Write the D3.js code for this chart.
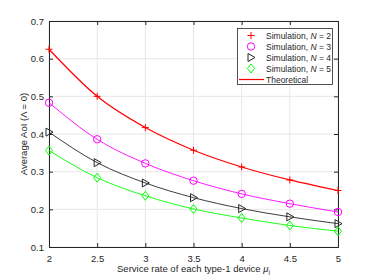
<!DOCTYPE html>
<html>
<head>
<meta charset="utf-8">
<script src="https://cdn.jsdelivr.net/npm/d3@7"></script>
<style>
  body { margin: 0; background: #fff; }
  text { font-family: "Liberation Sans", Arial, sans-serif; }
</style>
</head>
<body>
<div id="chart"></div>
<script>
// service rate values
var mu = [2, 2.5, 3, 3.5, 4, 4.5, 5];

// simulated AoI for each N
var simN2 = [0.625, 0.500, 0.417, 0.357, 0.3125, 0.278, 0.250];
var simN3 = [0.483, 0.386, 0.322, 0.276, 0.241, 0.215, 0.193];
var simN4 = [0.405, 0.324, 0.270, 0.231, 0.202, 0.180, 0.162];
var simN5 = [0.356, 0.284, 0.236, 0.201, 0.177, 0.157, 0.142];

// theoretical curves
var theoN2 = [0.625, 0.500, 0.417, 0.357, 0.3125, 0.278, 0.250];
var theoN3 = [0.483, 0.386, 0.322, 0.276, 0.241, 0.215, 0.193];
var theoN4 = [0.405, 0.324, 0.270, 0.231, 0.202, 0.180, 0.162];
var theoN5 = [0.356, 0.284, 0.236, 0.201, 0.177, 0.157, 0.142];

var xTicks = [2, 2.5, 3, 3.5, 4, 4.5, 5];
var yTicks = [0.1, 0.2, 0.3, 0.4, 0.5, 0.6, 0.7];

var legendLabels = ["Simulation, N = 2", "Simulation, N = 3", "Simulation, N = 4", "Simulation, N = 5"];

var width = 374, height = 280;
var margin = {left: 49, right: 36, top: 21, bottom: 33};

var svg = d3.select("#chart").append("svg")
  .attr("width", width)
  .attr("height", height);

var x = d3.scaleLinear().domain([2, 5]).range([margin.left, width - margin.right]);
var y = d3.scaleLinear().domain([0.1, 0.7]).range([height - margin.bottom, margin.top]);

// grid
svg.append("g").selectAll("line")
  .data(xTicks)
  .enter().append("line")
  .attr("x1", function(d) { return x(d) })
  .attr("x2", function(d) { return x(d) })
  .attr("y1", y(0.1))
  .attr("y2", y(0.7))
  .attr("stroke", "#e6e6e6")
  .attr("stroke-width", 1);

svg.append("g").selectAll("line")
  .data(yTicks)
  .enter().append("line")
  .attr("y1", function(d) { return y(d) })
  .attr("y2", function(d) { return y(d) })
  .attr("x1", x(2))
  .attr("x2", x(5))
  .attr("stroke", "#e6e6e6")
  .attr("stroke-width", 1);

// axes
var xAxis = d3.axisBottom(x).tickValues(xTicks).tickSize(-4).tickPadding(8)
  .tickFormat(function(d) { return d });
var yAxis = d3.axisLeft(y).tickValues(yTicks).tickSize(-4).tickPadding(5)
  .tickFormat(d3.format(".1f"));

var gx = svg.append("g")
  .attr("transform", "translate(0," + y(0.1) + ")")
  .call(xAxis);
var gy = svg.append("g")
  .attr("transform", "translate(" + x(2) + ",0)")
  .call(yAxis);

svg.append("g")
  .attr("transform", "translate(0," + y(0.7) + ")")
  .call(d3.axisTop(x).tickValues(xTicks).tickSize(-4).tickFormat(""));
svg.append("g")
  .attr("transform", "translate(" + x(5) + ",0)")
  .call(d3.axisRight(y).tickValues(yTicks).tickSize(-4).tickFormat(""));

svg.selectAll(".domain").attr("stroke", "#262626");
svg.selectAll(".tick line").attr("stroke", "#262626");
svg.selectAll(".tick text").attr("fill", "#262626").attr("font-size", "9.5px")
  .style("font-family", "'Liberation Sans', Arial, sans-serif");

// axis labels
svg.append("text")
  .attr("x", (x(2) + x(5)) / 2)
  .attr("y", 272)
  .attr("text-anchor", "middle")
  .attr("font-size", "9.5px")
  .attr("fill", "#262626")
  .html("Service rate of each type-1 device <tspan font-style='italic'>μ</tspan><tspan font-size='6.5px' dy='3'>i</tspan>");

svg.append("text")
  .attr("transform", "translate(27," + ((y(0.1) + y(0.7)) / 2) + ") rotate(-90)")
  .attr("text-anchor", "middle")
  .attr("font-size", "9.5px")
  .attr("fill", "#262626")
  .text("Average AoI (Λ = 0)");

// series
var series = [
  {sim: simN2, theo: theoN2, color: "#ff0000", marker: "plus"},
  {sim: simN3, theo: theoN3, color: "#ff00ff", marker: "circle"},
  {sim: simN4, theo: theoN4, color: "#262626", marker: "triangle"},
  {sim: simN5, theo: theoN5, color: "#00ff00", marker: "diamond"}
];

var line = d3.line()
  .x(function(d, i) { return x(mu[i]) })
  .y(function(d) { return y(d) })
  .curve(d3.curveMonotoneX);

function drawMarker(g, type, cx, cy, color) {
  if (type === "plus") {
    g.append("path")
      .attr("d", "M" + (cx - 3.5) + "," + cy + "H" + (cx + 3.5) + "M" + cx + "," + (cy - 3.5) + "V" + (cy + 3.5))
      .attr("stroke", color).attr("stroke-width", 1).attr("fill", "none");
  } else if (type === "circle") {
    g.append("circle")
      .attr("cx", cx).attr("cy", cy).attr("r", 3.7)
      .attr("stroke", color).attr("stroke-width", 1).attr("fill", "none");
  } else if (type === "triangle") {
    g.append("path")
      .attr("d", "M" + (cx - 3) + "," + (cy - 4) + "L" + (cx + 4) + "," + cy + "L" + (cx - 3) + "," + (cy + 4) + "Z")
      .attr("stroke", color).attr("stroke-width", 1).attr("fill", "none");
  } else if (type === "diamond") {
    g.append("path")
      .attr("d", "M" + cx + "," + (cy - 4.5) + "L" + (cx + 3.5) + "," + cy + "L" + cx + "," + (cy + 4.5) + "L" + (cx - 3.5) + "," + cy + "Z")
      .attr("stroke", color).attr("stroke-width", 1).attr("fill", "none");
  }
}

series.forEach(function(s) {
  svg.append("path")
    .datum(s.theo)
    .attr("d", line)
    .attr("fill", "none")
    .attr("stroke", s.color)
    .attr("stroke-width", s.color === "#ff0000" ? 1.2 : 0.9);

  var mg = svg.append("g");
  s.sim.forEach(function(v, i) {
    drawMarker(mg, s.marker, x(mu[i]), y(v), s.color);
  });
});

// legend
var lg = svg.append("g");
lg.append("rect")
  .attr("x", 237.5).attr("y", 28.5)
  .attr("width", 95).attr("height", 56)
  .attr("fill", "#fff")
  .attr("stroke", "#262626").attr("stroke-width", 0.8);

legendLabels.forEach(function(t, i) {
  var ly = 35.5 + i * 11;
  drawMarker(lg, series[i].marker, 251, ly, series[i].color);
  var parts = t.split("N");
  lg.append("text")
    .attr("x", 266).attr("y", ly + 3.3)
    .attr("font-size", "8.5px")
    .attr("fill", "#262626")
    .html(parts[0] + "<tspan font-style='italic'>N</tspan>" + parts[1]);
});

lg.append("line")
  .attr("x1", 239).attr("x2", 264)
  .attr("y1", 35.5 + 4 * 11).attr("y2", 35.5 + 4 * 11)
  .attr("stroke", "#ff0000").attr("stroke-width", 1.2);
lg.append("text")
  .attr("x", 266).attr("y", 35.5 + 4 * 11 + 3.3)
  .attr("font-size", "8.5px")
  .attr("fill", "#262626")
  .text("Theoretical");
</script>
</body>
</html>
